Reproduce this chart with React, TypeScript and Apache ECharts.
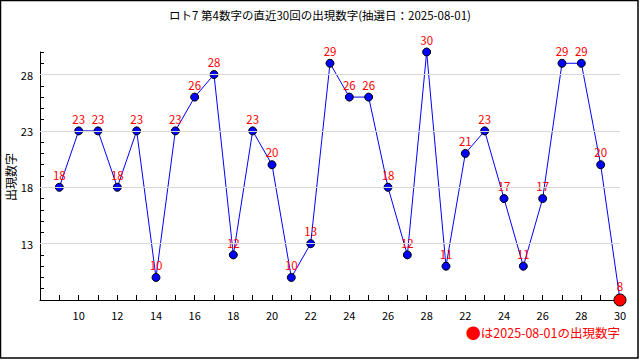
import React, { useEffect, useRef } from "react";
import * as echarts from "echarts";

const titleText = "ロト7 第4数字の直近30回の出現数字(抽選日：2025-08-01)";
const yAxisName = "出現数字";
const legendMark = "●";
const legendText = "は2025-08-01の出現数字";

const drawPositions = [9, 10, 11, 12, 13, 14, 15, 16, 17, 18, 19, 20, 21, 22, 23, 24, 25, 26, 27, 28, 29, 30, 31, 32, 33, 34, 35, 36, 37, 38];
const drawValues = [18, 23, 23, 18, 23, 10, 23, 26, 28, 12, 23, 20, 10, 13, 29, 26, 26, 18, 12, 30, 11, 21, 23, 17, 11, 17, 29, 29, 20, 8];

const xTickValues = [10, 12, 14, 16, 18, 20, 22, 24, 26, 28, 30, 32, 34, 36, 38];
const xTickLabels = ["10", "12", "14", "16", "18", "20", "22", "24", "26", "28", "22", "24", "26", "28", "30"];
const yTickLabels = [13, 18, 23, 28];

const FONT = "'Noto Sans CJK JP', 'DejaVu Sans', sans-serif";

export default function App() {
  const ref = useRef<HTMLDivElement>(null);

  useEffect(() => {
    if (!ref.current) return;
    const chart = echarts.init(ref.current, null, { renderer: "svg" });
    const last = drawValues.length - 1;
    const data = drawPositions.map((x, i) => {
      const item: any = { value: [x, drawValues[i]] };
      if (i === last) {
        item.symbolSize = 12;
        item.itemStyle = { color: "#ff0000", borderColor: "#000000", borderWidth: 1 };
      }
      return item;
    });

    chart.setOption({
      animation: false,
      backgroundColor: "#ffffff",
      textStyle: { fontFamily: FONT },
      title: {
        text: titleText,
        left: "center",
        top: 4,
        textStyle: { fontSize: 11.5, fontWeight: "normal", color: "#000000", fontFamily: FONT },
      },
      grid: { left: 40, right: 20, top: 52, bottom: 60, containLabel: false, outerBoundsMode: "none" },
      xAxis: {
        type: "value",
        min: 8,
        max: 38,
        interval: 1,
        axisLine: { show: true, lineStyle: { color: "#000000", width: 1 } },
        axisTick: { show: true, inside: true, length: 5, lineStyle: { color: "#000000" } },
        axisLabel: {
          color: "#000000",
          fontSize: 11,
          fontFamily: FONT,
          margin: 9,
          formatter: (v: number) => {
            const idx = xTickValues.indexOf(v);
            return idx >= 0 ? xTickLabels[idx] : "";
          },
        },
        splitLine: { show: false },
      },
      yAxis: {
        type: "value",
        min: 8,
        max: 30,
        interval: 1,
        axisLine: { show: true, lineStyle: { color: "#000000", width: 1 } },
        axisTick: { show: true, inside: true, length: 4, lineStyle: { color: "#000000" } },
        axisLabel: {
          color: "#000000",
          fontSize: 11,
          fontFamily: FONT,
          margin: 7,
          formatter: (v: number) => (yTickLabels.indexOf(v) >= 0 ? String(v) : ""),
        },
        splitLine: { show: false },
      },
      series: [
        {
          type: "line",
          data: [],
          z: 1,
          silent: true,
          markLine: {
            silent: true,
            symbol: ["none", "none"],
            label: { show: false },
            lineStyle: { color: "#d8d8d8", type: "solid", width: 1 },
            data: yTickLabels.map((v) => ({ yAxis: v })),
          },
        },
        {
          type: "line",
          z: 3,
          data,
          symbol: "circle",
          symbolSize: 8,
          showAllSymbol: true,
          lineStyle: { color: "#0000ff", width: 1 },
          itemStyle: { color: "#0000ff", borderColor: "#000000", borderWidth: 1 },
          label: {
            show: true,
            position: "top",
            distance: 2,
            color: "#ff0000",
            fontSize: 11.5,
            fontFamily: FONT,
            formatter: (p: any) => String(p.value[1]),
          },
        },
      ],
      graphic: [
        {
          type: "rect",
          shape: { x: 0.5, y: 0.5, width: 637.5, height: 357.5 },
          style: { fill: "none", stroke: "#000000", lineWidth: 1.5 },
          silent: true,
        },
        {
          type: "text",
          x: 10,
          y: 177,
          rotation: Math.PI / 2,
          style: {
            text: yAxisName,
            fill: "#000000",
            fontSize: 12,
            fontFamily: FONT,
            align: "center",
            verticalAlign: "middle",
          },
        },
        {
          type: "text",
          right: 20,
          top: 325,
          style: {
            text: "{m|" + legendMark + "}{t|" + legendText + "}",
            rich: {
              m: { fontSize: 15, fill: "#ff0000", fontFamily: FONT },
              t: { fontSize: 12.5, fill: "#ff0000", fontFamily: FONT },
            },
          },
        },
      ],
    });

    return () => chart.dispose();
  }, []);

  return (
    <div
      ref={ref}
      style={{ position: "absolute", left: 0, top: 0, width: 640, height: 360, background: "#ffffff" }}
    />
  );
}
